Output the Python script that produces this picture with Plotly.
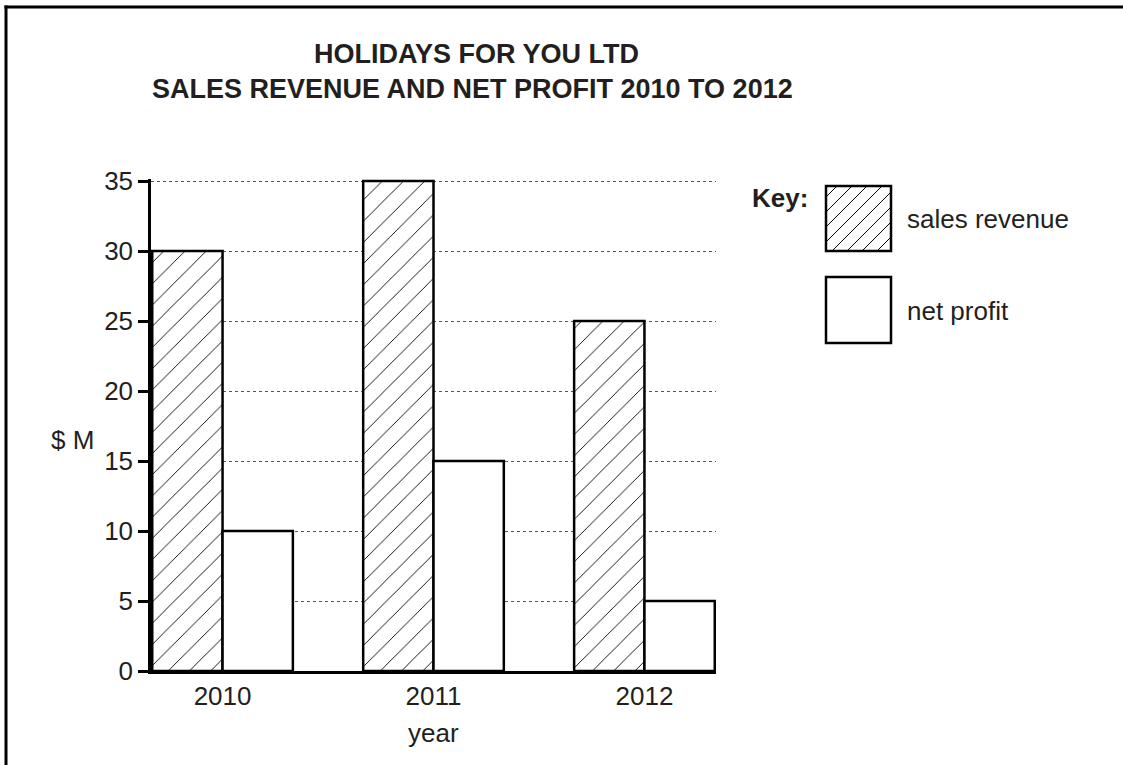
import plotly.graph_objects as go

years = ["2010", "2011", "2012"]
sales_revenue = [30, 35, 25]
net_profit = [10, 15, 5]
y_ticks = [0, 5, 10, 15, 20, 25, 30, 35]

W, H = 1123, 765
L, R, T, B = 151, 407, 179, 94
PW = W - L - R
PH = H - T - B

def px(x):
    return (x - L) / PW

def py(y):
    return (H - B - y) / PH

FONT = "Liberation Sans, Arial, Helvetica, sans-serif"
TXT = "#231f20"

pattern = dict(shape="/", fgcolor="black", bgcolor="white", size=15, solidity=0.06, fgopacity=1)

fig = go.Figure()
fig.add_trace(go.Bar(x=years, y=sales_revenue, name="sales revenue",
                     marker=dict(color="white", line=dict(color="black", width=2.5), pattern=pattern),
                     showlegend=False))
fig.add_trace(go.Bar(x=years, y=net_profit, name="net profit",
                     marker=dict(color="white", line=dict(color="black", width=2.5)),
                     showlegend=False))

ann = []
def text(t, x, y, size=26, bold=False, xanchor="center"):
    ann.append(dict(text=("<b>%s</b>" % t) if bold else t, x=px(x), y=py(y), xref="paper", yref="paper",
                    xanchor=xanchor, yanchor="middle", showarrow=False,
                    font=dict(family=FONT, size=size, color=TXT)))

text("HOLIDAYS FOR YOU LTD", 476, 54, size=27, bold=True)
text("SALES REVENUE AND NET PROFIT 2010 TO 2012", 472, 89, size=27, bold=True)
text("$ M", 72, 440)
text("year", 433, 733)
text("Key:", 750, 198, bold=True, xanchor="left")
text("sales revenue", 905, 219, xanchor="left")
text("net profit", 905, 311, xanchor="left")

shapes = []
# outer border (left and top)
shapes.append(dict(type="line", xref="paper", yref="paper", x0=px(6), x1=px(6), y0=py(5.5), y1=py(770),
                   line=dict(color="black", width=3)))
shapes.append(dict(type="line", xref="paper", yref="paper", x0=px(4.5), x1=px(1130), y0=py(7), y1=py(7),
                   line=dict(color="black", width=3)))

# key boxes
bx0, bx1 = 826, 891
for (y0, y1, hatch) in [(186, 251, True), (277, 343, False)]:
    if hatch:
        segs = []
        c = bx0 + y0 + 11
        while c < bx1 + y1:
            xa = max(bx0, c - y1)
            xb = min(bx1, c - y0)
            if xb > xa:
                segs.append("M%.5f,%.5f L%.5f,%.5f" % (px(xa), py(c - xa), px(xb), py(c - xb)))
            c += 15
        shapes.append(dict(type="path", xref="paper", yref="paper", path=" ".join(segs),
                           line=dict(color="black", width=1)))
    shapes.append(dict(type="rect", xref="paper", yref="paper", x0=px(bx0), x1=px(bx1), y0=py(y1), y1=py(y0),
                       line=dict(color="black", width=2.5), fillcolor="rgba(0,0,0,0)"))

fig.update_layout(
    width=W, height=H,
    margin=dict(l=L, r=R, t=T, b=B, pad=0),
    paper_bgcolor="white", plot_bgcolor="white",
    barmode="group", bargap=1/3, bargroupgap=0,
    font=dict(family=FONT, size=26, color=TXT),
    annotations=ann, shapes=shapes,
    xaxis=dict(type="category", range=[-0.3392, 2.3392], showgrid=False, showline=True,
               linecolor="black", linewidth=2.5, ticks="", tickfont=dict(size=26, color=TXT),
               zeroline=False, fixedrange=True),
    yaxis=dict(range=[0, PH / 14], tickvals=y_ticks, showgrid=True, gridcolor="#555555",
               griddash="dot", gridwidth=1, showline=True, linecolor="black", linewidth=2.5,
               ticks="outside", ticklen=10, tickwidth=2.5, tickcolor="black",
               tickfont=dict(size=26, color=TXT), zeroline=False, fixedrange=True),
)

fig.write_html("out.html", config={"displayModeBar": False},
               post_script="document.body.style.margin='0';document.body.style.overflow='hidden';")
